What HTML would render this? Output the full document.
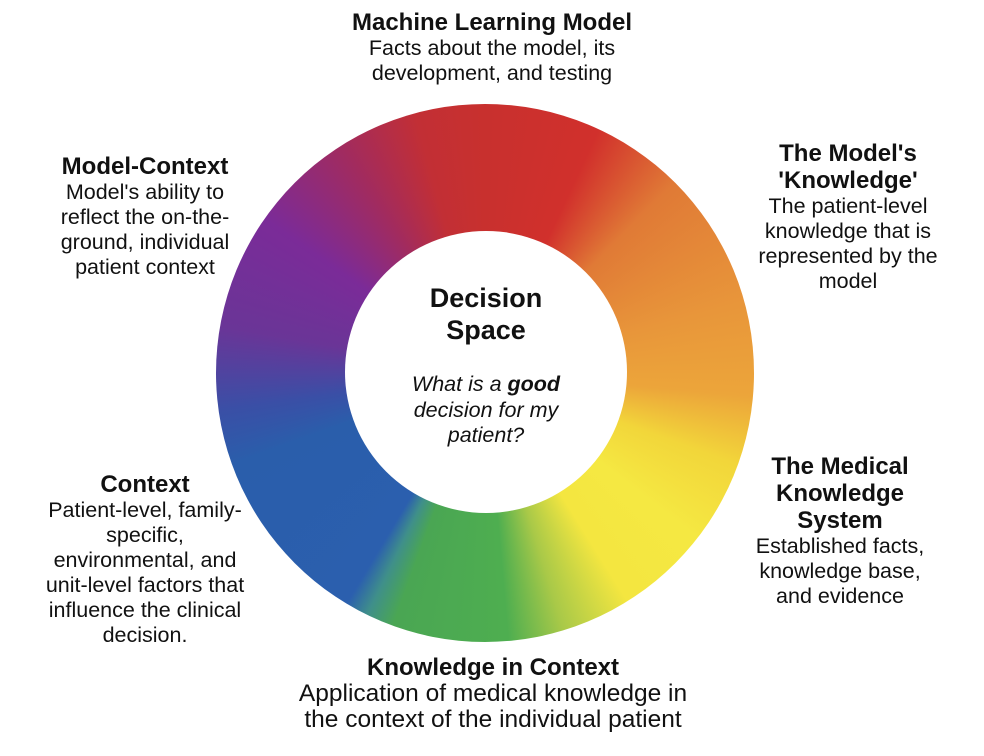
<!DOCTYPE html>
<html><head><style>
body{margin:0;width:984px;height:756px;background:#fff;position:relative;overflow:hidden;font-family:"Liberation Sans",Arial,sans-serif;color:#111}
.ring{position:absolute;left:216px;top:104px;width:538px;height:538px;border-radius:50%;
background:conic-gradient(from 0deg,#c8302e 0deg,#d1302c 25deg,#e07a36 45deg,#e8963a 75deg,#eca53a 95deg,#f2d63a 110deg,#f5e842 128deg,#f4e640 148deg,#a9c948 163deg,#4eae50 175deg,#4aa653 200deg,#3f8f8a 206deg,#2b5fae 211deg,#2a5eab 250deg,#3a4fa6 262deg,#6a3597 280deg,#7b2b98 305deg,#a22b5e 328deg,#c22f35 345deg,#c8302e 360deg)}
.hole{position:absolute;left:345px;top:231px;width:282px;height:282px;border-radius:50%;background:#fff}
.t{position:absolute;text-align:center;font-size:21.5px;line-height:25px;white-space:nowrap}
.t b{font-size:24px;display:block;line-height:27px}
</style></head><body>
<div class="ring"></div><div class="hole"></div>
<div class="t" style="left:242px;width:500px;top:9px"><b>Machine Learning Model</b>Facts about the model, its<br>development, and testing</div>
<div class="t" style="left:20px;width:250px;top:153px"><b>Model-Context</b>Model's ability to<br>reflect the on-the-<br>ground, individual<br>patient context</div>
<div class="t" style="left:718px;width:260px;top:140px"><b>The Model's<br>'Knowledge'</b>The patient-level<br>knowledge that is<br>represented by the<br>model</div>
<div class="t" style="left:386px;width:200px;top:282px;font-weight:bold;font-size:27px;line-height:32px">Decision<br>Space</div>
<div class="t" style="left:376px;width:220px;top:371px;font-style:italic">What is a <b style="display:inline;font-size:21.5px">good</b><br>decision for my<br>patient?</div>
<div class="t" style="left:710px;width:260px;top:453px"><b>The Medical<br>Knowledge<br>System</b>Established facts,<br>knowledge base,<br>and evidence</div>
<div class="t" style="left:10px;width:270px;top:471px"><b>Context</b>Patient-level, family-<br>specific,<br>environmental, and<br>unit-level factors that<br>influence the clinical<br>decision.</div>
<div class="t" style="left:243px;width:500px;top:654px;font-size:24.5px;line-height:26px"><b>Knowledge in Context</b>Application of medical knowledge in<br>the context of the individual patient</div>
</body></html>
